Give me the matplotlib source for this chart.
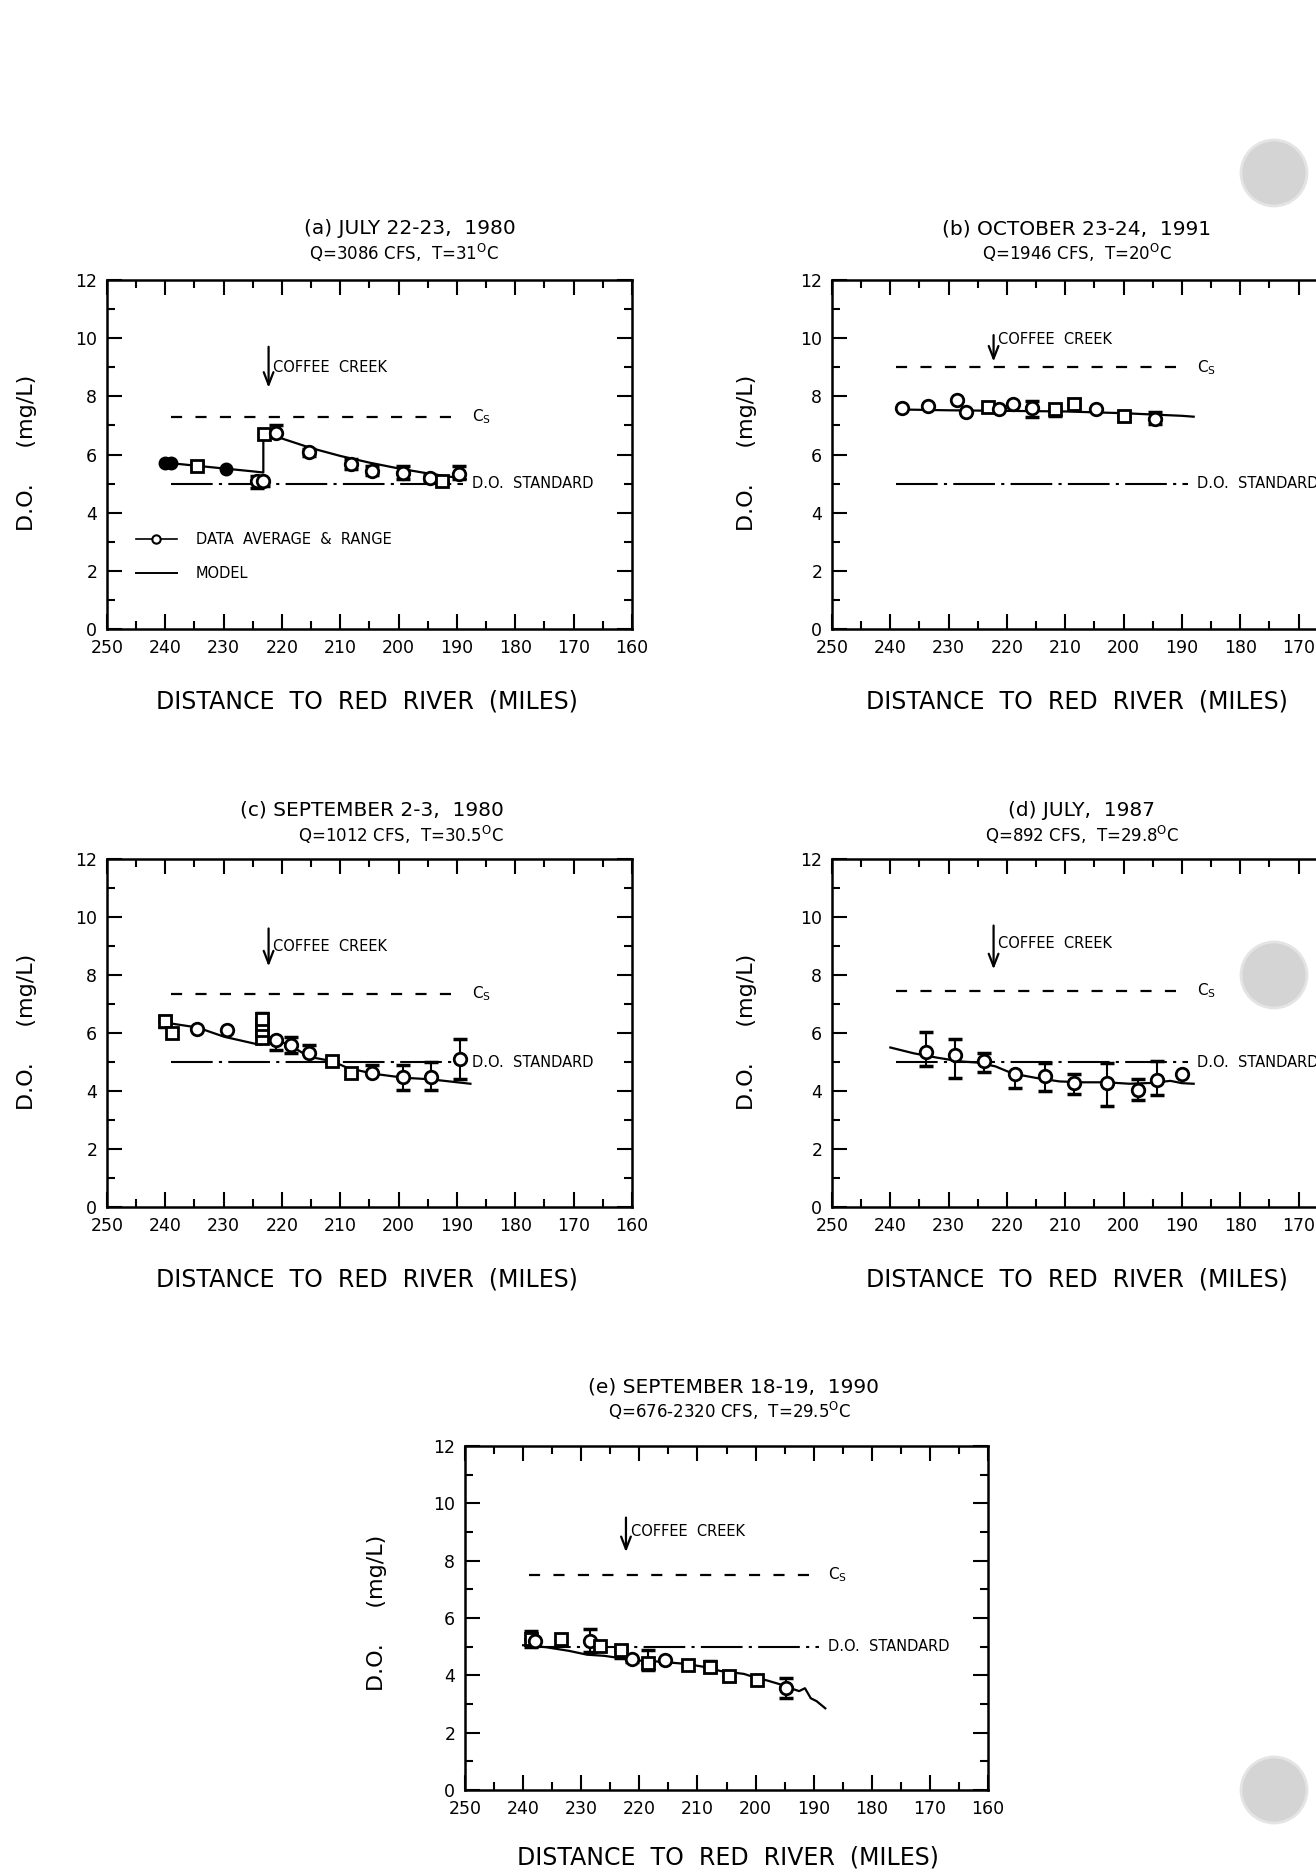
import numpy as np
import matplotlib
matplotlib.use("Agg")
import matplotlib.pyplot as plt
from matplotlib.lines import Line2D
from matplotlib.patches import Circle
from matplotlib.ticker import MultipleLocator, FixedLocator

nan = np.nan

# ── Data ─────────────────────────────────────────────────────────────────────
# markers: 'o' open circle, 's' open square, 'f' filled circle

# (a) July 22-23, 1980
a_x   = [240.0, 239.0, 234.5, 229.6, 224.3, 223.3, 223.0, 221.0, 215.4, 208.1, 204.5, 199.2, 194.6, 192.6, 189.7]
a_y   = [5.70, 5.70, 5.62, 5.50, 5.10, 5.10, 6.70, 6.75, 6.07, 5.67, 5.44, 5.36, 5.18, 5.10, 5.32]
a_lo  = [nan, nan, nan, nan, 4.85, 4.90, nan, nan, 5.95, 5.50, 5.30, 5.15, 5.05, 5.05, 5.15]
a_hi  = [nan, nan, 5.72, nan, 5.25, nan, nan, 7.00, 6.20, 5.85, 5.60, 5.60, 5.30, nan, 5.60]
a_mk  = ['f', 'f', 's', 'f', 'o', 'o', 's', 'o', 'o', 'o', 'o', 'o', 'o', 's', 'o']
a_mx  = [240.0, 235.0, 230.0, 225.0, 223.2, 223.2, 220.0, 215.0, 210.0, 205.0, 200.0, 195.0, 190.0, 188.5]
a_my  = [5.72, 5.62, 5.52, 5.42, 5.38, 6.72, 6.55, 6.22, 5.95, 5.72, 5.52, 5.35, 5.20, 5.15]
a_cs  = 7.3

# (b) October 23-24, 1991
b_x   = [238.0, 233.6, 228.6, 227.1, 223.3, 221.3, 219.0, 215.7, 211.8, 208.5, 204.8, 199.9, 194.6]
b_y   = [7.60, 7.68, 7.86, 7.45, 7.63, 7.57, 7.72, 7.60, 7.57, 7.74, 7.55, 7.34, 7.22]
b_lo  = [nan, nan, nan, nan, nan, nan, nan, 7.30, 7.33, nan, nan, 7.15, 7.05]
b_hi  = [nan, nan, nan, nan, nan, nan, nan, 7.85, nan, 7.92, nan, 7.45, 7.45]
b_mk  = ['o', 'o', 'o', 'o', 's', 'o', 'o', 'o', 's', 's', 'o', 's', 'o']
b_mx  = [239.0, 230.0, 220.0, 210.0, 200.0, 190.0, 188.0]
b_my  = [7.55, 7.52, 7.50, 7.48, 7.42, 7.33, 7.30]
b_cs  = 9.0

# (c) September 2-3, 1980
c_x   = [240.1, 238.9, 234.5, 229.4, 223.4, 223.4, 223.4, 223.4, 221.0, 218.4, 215.4, 211.4, 208.1, 204.5, 199.2, 194.4, 189.4]
c_y   = [6.42, 6.01, 6.15, 6.09, 5.84, 6.10, 6.30, 6.50, 5.76, 5.58, 5.32, 5.03, 4.61, 4.61, 4.49, 4.49, 5.09]
c_lo  = [6.20, nan, nan, nan, 5.70, nan, nan, nan, 5.40, 5.30, nan, 4.95, nan, nan, 4.05, 4.05, 4.40]
c_hi  = [6.60, nan, nan, nan, nan, nan, nan, 6.70, nan, 5.85, 5.60, nan, nan, 4.90, 4.90, 5.00, 5.80]
c_mk  = ['s', 's', 'o', 'o', 's', 's', 's', 's', 'o', 'o', 'o', 's', 's', 'o', 'o', 'o', 'o']
c_mx  = [240.1, 234.5, 229.9, 224.2, 223.4, 222.3, 218.4, 215.4, 211.4, 208.8, 204.5, 199.2, 194.4, 187.7]
c_my  = [6.36, 6.19, 5.87, 5.61, 5.60, 5.88, 5.55, 5.18, 5.03, 4.80, 4.60, 4.46, 4.40, 4.25]
c_cs  = 7.35

# (d) July, 1987
d_x   = [233.8, 228.9, 224.0, 218.7, 213.4, 208.5, 202.9, 197.6, 194.3, 190.0]
d_y   = [5.36, 5.25, 5.02, 4.58, 4.53, 4.27, 4.27, 4.04, 4.38, 4.59]
d_lo  = [4.85, 4.45, 4.65, 4.10, 4.00, 3.90, 3.50, 3.70, 3.85, nan]
d_hi  = [6.05, 5.80, 5.30, nan, 4.95, 4.60, 4.95, 4.40, 5.05, nan]
d_mk  = ['o'] * 10
d_mx  = [240.0, 236.0, 232.0, 228.0, 225.0, 222.0, 219.0, 215.0, 211.0, 207.0, 203.0, 199.0, 195.0, 192.0, 190.0, 188.0]
d_my  = [5.50, 5.30, 5.15, 5.02, 4.98, 4.85, 4.60, 4.45, 4.33, 4.30, 4.30, 4.25, 4.28, 4.35, 4.27, 4.25]
d_cs  = 7.45

# (e) September 18-19, 1990
e_x   = [238.7, 238.0, 233.4, 228.5, 226.8, 223.2, 221.2, 218.5, 215.6, 211.6, 207.9, 204.6, 199.7, 194.7]
e_y   = [5.26, 5.20, 5.26, 5.19, 5.02, 4.88, 4.57, 4.42, 4.54, 4.36, 4.30, 3.96, 3.85, 3.56]
e_lo  = [5.00, nan, nan, 4.80, nan, 4.60, 4.45, 4.20, nan, nan, 4.10, 3.80, nan, 3.20]
e_hi  = [5.55, nan, nan, 5.60, nan, 5.00, nan, 4.90, nan, nan, 4.50, nan, nan, 3.90]
e_mk  = ['s', 'o', 's', 'o', 's', 's', 'o', 's', 'o', 's', 's', 's', 's', 'o']
e_mx  = [240.0, 236.0, 232.0, 229.0, 226.0, 224.0, 221.0, 218.0, 215.0, 212.0, 209.0, 206.0, 204.0, 202.0, 200.0, 198.0, 196.0, 194.0, 192.5, 191.5, 190.5, 189.5, 188.0]
e_my  = [5.05, 4.98, 4.85, 4.72, 4.68, 4.62, 4.52, 4.50, 4.45, 4.40, 4.30, 4.15, 4.10, 4.05, 3.92, 3.82, 3.70, 3.55, 3.45, 3.55, 3.20, 3.10, 2.85]
e_cs  = 7.5

DO_STANDARD = 5.0
CREEK_MILE = 222.3

titles = ["(a) JULY 22-23,  1980", "(b) OCTOBER 23-24,  1991", "(c) SEPTEMBER 2-3,  1980",
          "(d) JULY,  1987", "(e) SEPTEMBER 18-19,  1990"]
subtitles = [r"Q=3086 CFS,  T=31$^{\mathrm{O}}$C", r"Q=1946 CFS,  T=20$^{\mathrm{O}}$C",
             r"Q=1012 CFS,  T=30.5$^{\mathrm{O}}$C", r"Q=892 CFS,  T=29.8$^{\mathrm{O}}$C",
             r"Q=676-2320 CFS,  T=29.5$^{\mathrm{O}}$C"]

panels = [
    dict(x=a_x, y=a_y, lo=a_lo, hi=a_hi, mk=a_mk, mx=a_mx, my=a_my, cs=a_cs, creek=(9.8, 8.2, 9.0), legend=True),
    dict(x=b_x, y=b_y, lo=b_lo, hi=b_hi, mk=b_mk, mx=b_mx, my=b_my, cs=b_cs, creek=(10.2, 9.1, 9.95), legend=False),
    dict(x=c_x, y=c_y, lo=c_lo, hi=c_hi, mk=c_mk, mx=c_mx, my=c_my, cs=c_cs, creek=(9.7, 8.2, 9.0), legend=False),
    dict(x=d_x, y=d_y, lo=d_lo, hi=d_hi, mk=d_mk, mx=d_mx, my=d_my, cs=d_cs, creek=(9.8, 8.1, 9.1), legend=False),
    dict(x=e_x, y=e_y, lo=e_lo, hi=e_hi, mk=e_mk, mx=e_mx, my=e_my, cs=e_cs, creek=(9.6, 8.2, 9.0), legend=False),
]

# ── Layout (pixel boxes on the 1316x1870 page: left, top, right, bottom) ─────
W, H = 1316, 1870
boxes = [(107, 280, 632, 629), (832, 280, 1357, 629),
         (107, 859, 632, 1207), (832, 859, 1357, 1207),
         (465, 1446, 988, 1790)]
clipped = [False, True, False, True, False]   # right column runs off the scanned page
title_xy = [(410, 229), (1077, 229), (372, 810), (1082, 810), (734, 1387)]
sub_xy   = [(404, 253), (1077, 253), (401, 835), (1082, 835), (730, 1411)]
xlab_xy  = [(367, 701), (1077, 701), (367, 1279), (1077, 1279), (728, 1857)]
ylab_xy  = [(27, 453), (747, 453), (27, 1032), (747, 1032), (377, 1613)]
holes    = [(1274, 173), (1274, 975), (1274, 1790)]

plt.rcParams["font.family"] = "DejaVu Sans"
fig = plt.figure(figsize=(W / 100, H / 100), dpi=100)
fig.patch.set_facecolor("white")

def fx(px): return px / W
def fy(py): return 1 - py / H

for i, p in enumerate(panels):
    l, t, r, b = boxes[i]
    ax = fig.add_axes([fx(l), fy(b), (r - l) / W, (b - t) / H])
    ax.set_xlim(250, 160)
    ax.set_ylim(0, 12)
    if clipped[i]:
        ax.xaxis.set_major_locator(FixedLocator(np.arange(250, 165, -10)))
    else:
        ax.xaxis.set_major_locator(MultipleLocator(10))
    ax.xaxis.set_minor_locator(MultipleLocator(5))
    ax.yaxis.set_major_locator(MultipleLocator(2))
    ax.yaxis.set_minor_locator(MultipleLocator(1))
    ax.tick_params(which="both", direction="in", top=True, right=True, width=1.5, labelsize=12.5)
    ax.tick_params(which="major", length=11, pad=7)
    ax.tick_params(which="minor", length=6)
    for s in ax.spines.values():
        s.set_linewidth(1.8)

    # saturation and standard lines
    ax.plot([239, 189], [p["cs"]] * 2, color="k", lw=1.6, linestyle=(0, (5, 6)))
    ax.text(187.5, p["cs"], r"C$_{\mathrm{S}}$", fontsize=11, va="center", ha="left")
    ax.plot([239, 189], [DO_STANDARD] * 2, color="k", lw=1.5, linestyle=(0, (20, 3, 1.5, 3)))
    ax.text(187.5, DO_STANDARD, "D.O.  STANDARD", fontsize=10.5, va="center", ha="left")

    # model
    ax.plot(p["mx"], p["my"], color="k", lw=1.6, zorder=3)

    # data with ranges
    x = np.array(p["x"]); y = np.array(p["y"])
    lo = np.array(p["lo"]); hi = np.array(p["hi"])
    for xi, yi, l0, h0 in zip(x, y, lo, hi):
        if not np.isnan(l0):
            ax.errorbar([xi], [yi], yerr=[[yi - l0], [0]], fmt="none", ecolor="k",
                        elinewidth=1.5, capsize=5, capthick=2.5, zorder=4)
        if not np.isnan(h0):
            ax.errorbar([xi], [yi], yerr=[[0], [h0 - yi]], fmt="none", ecolor="k",
                        elinewidth=1.5, capsize=5, capthick=2.5, zorder=4)
    for xi, yi, m in zip(x, y, p["mk"]):
        if m == "f":
            ax.plot(xi, yi, "o", ms=9, mfc="k", mec="k", zorder=5)
        else:
            ax.plot(xi, yi, m, ms=9, mfc="white", mec="k", mew=2, zorder=5)

    # Coffee Creek
    top, tip, ty = p["creek"]
    ax.annotate("", xy=(CREEK_MILE, tip), xytext=(CREEK_MILE, top),
                arrowprops=dict(arrowstyle="->,head_length=0.9,head_width=0.35", lw=1.6, color="k"))
    ax.text(CREEK_MILE - 0.8, ty, "COFFEE  CREEK", fontsize=10.5, va="center", ha="left")

    if p["legend"]:
        h1 = Line2D([], [], color="k", lw=1.2, marker="o", ms=6, mfc="white", mec="k", mew=1.5)
        h2 = Line2D([], [], color="k", lw=1.4)
        ax.legend([h1, h2], ["DATA  AVERAGE  &  RANGE", "MODEL"], loc="lower left",
                  bbox_to_anchor=(0.03, 0.1), frameon=False, fontsize=10.5,
                  handlelength=2.8, handletextpad=1.3, labelspacing=1.3)

    fig.text(fx(title_xy[i][0]), fy(title_xy[i][1]), titles[i], fontsize=14.5,
             ha="center", va="center")
    fig.text(fx(sub_xy[i][0]), fy(sub_xy[i][1]), subtitles[i], fontsize=12,
             ha="center", va="center")
    fig.text(fx(xlab_xy[i][0]), fy(xlab_xy[i][1]), "DISTANCE  TO  RED  RIVER  (MILES)",
             fontsize=17, ha="center", va="center")
    fig.text(fx(ylab_xy[i][0]), fy(ylab_xy[i][1]), "D.O.     (mg/L)", fontsize=16,
             rotation=90, ha="center", va="center")

# binder punch holes of the scanned page
for hx, hy in holes:
    fig.add_artist(Circle((hx / 100, (H - hy) / 100), 0.33, transform=fig.dpi_scale_trans,
                          facecolor="#d4d4d4", edgecolor="#e4e4e4", lw=2))

fig.savefig("out.png", dpi=100)
